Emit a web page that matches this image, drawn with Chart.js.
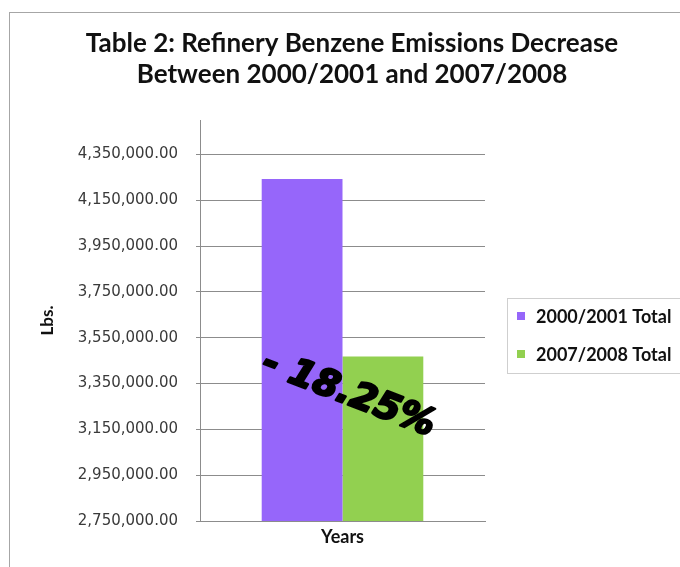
<!DOCTYPE html>
<html>
<head>
<meta charset="utf-8">
<script src="https://cdn.jsdelivr.net/npm/chart.js@4.4.1/dist/chart.umd.min.js"></script>
<style>
  body { margin: 0; background: #fff; }
  canvas { display: block; }
</style>
</head>
<body>
<canvas id="myChart" width="680" height="567"></canvas>
<script>
const seriesLabels = ["2000/2001 Total", "2007/2008 Total"];
const seriesValues = [4242500, 3468000];
const seriesColors = ["#9666fa", "#92d050"];
const yTicks = [2750000, 2950000, 3150000, 3350000, 3550000, 3750000, 3950000, 4150000, 4350000];
const yMin = 2750000;
const yMax = 4500000;
const titleLines = ["Table 2: Refinery Benzene Emissions Decrease", "Between 2000/2001 and 2007/2008"];
const changeLabel = "- 18.25%";

const myChart = document.getElementById("myChart");

// outer frame of the chart object
const frame = {
  id: "frame",
  beforeDraw(chart) {
    const ctx = chart.ctx;
    ctx.save();
    ctx.fillStyle = "#fff";
    ctx.fillRect(0, 0, chart.width, chart.height);
    ctx.strokeStyle = "#a6a6a6";
    ctx.lineWidth = 1;
    ctx.strokeRect(9.5, 12.5, 800, 800);
    ctx.restore();
  },
};

// two-line title, centred on the whole (wider) chart object
const titleText = {
  id: "titleText",
  afterDraw(chart) {
    const ctx = chart.ctx;
    ctx.save();
    ctx.font = "bold 26px Lato";
    ctx.fillStyle = "#111";
    ctx.textAlign = "center";
    ctx.textBaseline = "alphabetic";
    titleLines.forEach((line, i) => {
      ctx.fillText(line, 352, 52 + i * 30.5);
    });
    ctx.restore();
  },
};

// boxed legend on the right
const legendBox = {
  id: "legendBox",
  afterDraw(chart) {
    const { ctx, chartArea } = chart;
    const left = chartArea.right + 22;
    const top = 298;
    ctx.save();
    ctx.strokeStyle = "#cfcfcf";
    ctx.lineWidth = 1;
    ctx.strokeRect(left + 0.5, top + 0.5, 220, 75);
    ctx.font = "bold 18px Lato";
    ctx.textBaseline = "middle";
    chart.data.datasets.forEach((ds, i) => {
      const y = top + 18 + i * 38;
      ctx.fillStyle = ds.backgroundColor;
      ctx.fillRect(left + 10, y - 4, 8, 8);
      ctx.fillStyle = "#111";
      ctx.fillText(ds.label, left + 29, y + 1);
    });
    ctx.restore();
  },
};

// slanted percentage note over the bars
const changeNote = {
  id: "changeNote",
  afterDatasetsDraw(chart) {
    const { ctx, chartArea } = chart;
    const x = chart.scales.x.getPixelForValue(0) + 6;
    const y = chartArea.top + chartArea.height * 0.685;
    ctx.save();
    ctx.translate(x, y);
    ctx.rotate((21 * Math.PI) / 180);
    ctx.font = 'italic bold 37px "DejaVu Sans"';
    ctx.fillStyle = "#000";
    ctx.strokeStyle = "#000";
    ctx.lineWidth = 2.5;
    ctx.lineJoin = "round";
    ctx.textAlign = "center";
    ctx.textBaseline = "middle";
    ctx.strokeText(changeLabel, 0, 0);
    ctx.fillText(changeLabel, 0, 0);
    ctx.restore();
  },
};

new Chart(myChart, {
  type: "bar",
  data: {
    labels: [""],
    datasets: seriesLabels.map((label, i) => ({
      label: label,
      data: [seriesValues[i]],
      backgroundColor: seriesColors[i],
      borderWidth: 0,
      categoryPercentage: 0.567,
      barPercentage: 1,
    })),
  },
  options: {
    responsive: false,
    animation: false,
    layout: {
      padding: { left: 24, right: 195, top: 120, bottom: 0 },
    },
    plugins: {
      legend: { display: false },
      tooltip: { enabled: false },
      title: { display: false },
    },
    scales: {
      x: {
        ticks: { display: false },
        grid: { display: false },
        border: { color: "#8c8c8c" },
        afterFit: (s) => { s.height = 46; },
        title: {
          display: true,
          text: "Years",
          color: "#111",
          font: { family: "Lato", size: 18, weight: "bold" },
          padding: { top: 0, bottom: 19 },
        },
      },
      y: {
        min: yMin,
        max: yMax,
        afterBuildTicks: (s) => { s.ticks = yTicks.map((v) => ({ value: v })); },
        afterFit: (s) => { s.width = 176; },
        ticks: {
          color: "#3a3a3a",
          padding: 18,
          font: { family: "DejaVu Sans", size: 15 },
          callback: (v) => v.toLocaleString("en-US", { minimumFractionDigits: 2, maximumFractionDigits: 2 }),
        },
        grid: { color: "#8c8c8c", tickLength: 4 },
        border: { color: "#8c8c8c" },
        title: {
          display: true,
          text: "Lbs.",
          color: "#111",
          font: { family: "Lato", size: 17, weight: "bold" },
          padding: { top: 13, bottom: 0 },
        },
      },
    },
  },
  plugins: [frame, titleText, legendBox, changeNote],
});
</script>
</body>
</html>
